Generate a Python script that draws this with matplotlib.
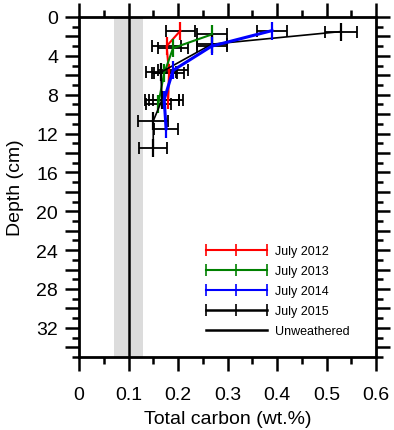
import numpy as np
import matplotlib.pyplot as plt
from matplotlib.lines import Line2D
from matplotlib.ticker import MultipleLocator

plt.rcParams['font.family'] = ['Liberation Sans', 'DejaVu Sans']

# July 2012
d2012 = [1.4, 3.0, 5.8, 8.5]
c2012 = [0.205, 0.177, 0.182, 0.180]
e2012 = [0.03, 0.03, 0.03, 0.03]
# July 2013
d2013 = [1.8, 3.2, 5.8, 9.0]
c2013 = [0.268, 0.190, 0.172, 0.160]
e2013 = [0.03, 0.03, 0.025, 0.025]
# July 2014
d2014 = [1.4, 3.0, 5.5, 8.5, 11.5]
c2014 = [0.390, 0.268, 0.190, 0.172, 0.176]
e2014 = [0.03, 0.03, 0.03, 0.03, 0.025]
# July 2015
d2015 = [1.5, 2.8, 5.7, 8.5, 10.7, 13.5]
c2015 = [0.529, 0.268, 0.165, 0.168, 0.150, 0.150]
e2015 = [0.032, 0.03, 0.03, 0.035, 0.03, 0.028]

unweathered = 0.1
unweathered_lo = 0.07
unweathered_hi = 0.13

series = [
    ("July 2012", d2012, c2012, e2012, "#ff0000", 1.5),
    ("July 2013", d2013, c2013, e2013, "#008000", 1.5),
    ("July 2015", d2015, c2015, e2015, "black", 1.2),
    ("July 2014", d2014, c2014, e2014, "#0000ff", 2.2),
]

fig = plt.figure(figsize=(3.94, 4.31), dpi=100)
ax = fig.add_axes([79/394, 1-358/431, (376-79)/394, (358-18)/431])

ax.axvspan(unweathered_lo, unweathered_hi, color="#dcdcdc", lw=0, zorder=0)
ax.axvline(unweathered, color="black", lw=1.8, zorder=1)

for name, d, c, e, col, lw in series:
    ax.errorbar(c, d, xerr=e, fmt="none", ecolor="black", elinewidth=1.3,
                capsize=4.5, capthick=1.3, zorder=2)
    ax.plot(c, d, color=col, lw=lw, marker="|", ms=13, mew=1.6, zorder=3)

ax.set_xlim(0, 0.6)
ax.set_ylim(35, 0)

ax.xaxis.set_minor_locator(MultipleLocator(0.05))
ax.set_xticks(np.arange(0, 0.61, 0.1))
ax.set_xticklabels(["0", "0.1", "0.2", "0.3", "0.4", "0.5", "0.6"])
ax.yaxis.set_minor_locator(MultipleLocator(1))
ax.set_yticks(np.arange(0, 35, 2))
ax.set_yticklabels([str(v) if v % 4 == 0 else "" for v in range(0, 35, 2)])

ax.tick_params(which="both", direction="out", width=1.8, top=True, right=True,
               labelsize=14)
ax.tick_params(which="major", length=10, pad=11)
ax.tick_params(which="minor", length=5)
ax.tick_params(axis="y", which="major", pad=5)
for sp in ax.spines.values():
    sp.set_linewidth(2)

ax.set_xlabel("Total carbon (wt.%)", fontsize=14, labelpad=5)
ax.set_ylabel("Depth (cm)", fontsize=14, labelpad=9)

handles = [
    Line2D([], [], color="#ff0000", lw=1.5, marker="|", ms=9, mew=1.2),
    Line2D([], [], color="#008000", lw=1.5, marker="|", ms=9, mew=1.2),
    Line2D([], [], color="#0000ff", lw=1.5, marker="|", ms=9, mew=1.2),
    Line2D([], [], color="black", lw=1.8, marker="|", ms=9, mew=1.2),
    Line2D([], [], color="black", lw=1.8),
]
labels = ["July 2012", "July 2013", "July 2014", "July 2015", "Unweathered"]
ax.legend(handles, labels, loc="upper left", bbox_to_anchor=(202/394, 1-246/431),
          bbox_transform=fig.transFigure, frameon=False, fontsize=9,
          numpoints=3, handlelength=5.5, handletextpad=0.35, labelspacing=0.65,
          borderpad=0, borderaxespad=0)

fig.savefig("out.png", dpi=100)
